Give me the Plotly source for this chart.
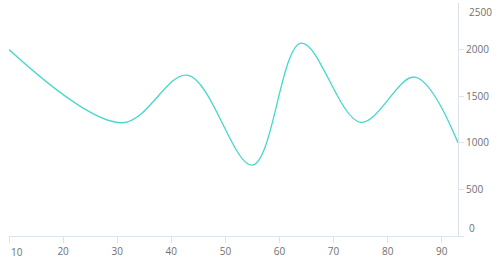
import plotly.graph_objects as go

x_vals = [10, 31, 43, 55, 64, 75, 85, 93]
y_vals = [2000, 1215, 1725, 760, 2070, 1220, 1705, 1000]
x_ticks = [10, 20, 30, 40, 50, 60, 70, 80, 90]
y_ticks = [0, 500, 1000, 1500, 2000, 2500]

line_color = "#45d8ca"
axis_color = "#dde3ea"
text_color = "#707070"
font_family = "Open Sans, Noto Sans, sans-serif"

fig = go.Figure()
fig.add_trace(go.Scatter(
    x=x_vals, y=y_vals, mode="lines",
    line=dict(color=line_color, width=1.3, shape="spline", smoothing=1.0),
    hoverinfo="skip", showlegend=False,
))

x_text = ["" if v == x_ticks[0] else str(v) for v in x_ticks]
y_tv = y_ticks[:-1]
y_text = ["" if v == 0 else str(v) for v in y_tv]

fig.update_layout(
    width=500, height=269,
    margin=dict(l=9, r=42, t=3, b=33),
    paper_bgcolor="white", plot_bgcolor="white",
    font=dict(family=font_family, size=10, color=text_color),
    xaxis=dict(
        range=[10, 93], tickvals=x_ticks, ticktext=x_text,
        showgrid=False, zeroline=False, showline=True, linecolor=axis_color, linewidth=1,
        ticks="outside", ticklen=6, tickcolor=axis_color, tickwidth=1,
        tickfont=dict(size=10, color=text_color),
    ),
    yaxis=dict(
        range=[0, 2500], side="right", tickvals=y_tv, ticktext=y_text,
        showgrid=False, zeroline=False, showline=True, linecolor=axis_color, linewidth=1,
        ticks="outside", ticklen=5, tickcolor=axis_color, tickwidth=1,
        tickfont=dict(size=10, color=text_color),
    ),
)

fig.add_annotation(x=x_ticks[0], y=0, xref="x", yref="paper", text=str(x_ticks[0]),
                   showarrow=False, xshift=8, yshift=-16, xanchor="center", yanchor="middle",
                   font=dict(size=10, color=text_color, family=font_family))
fig.add_annotation(x=1, y=0, xref="paper", yref="y", text=str(y_ticks[0]),
                   showarrow=False, xshift=9, yshift=8, xanchor="left", yanchor="middle",
                   font=dict(size=10, color=text_color, family=font_family))
fig.add_annotation(x=1, y=y_ticks[-1], xref="paper", yref="y", text=str(y_ticks[-1]),
                   showarrow=False, xshift=9, yshift=-9, xanchor="left", yanchor="middle",
                   font=dict(size=10, color=text_color, family=font_family))

fig.write_html("out.html")
